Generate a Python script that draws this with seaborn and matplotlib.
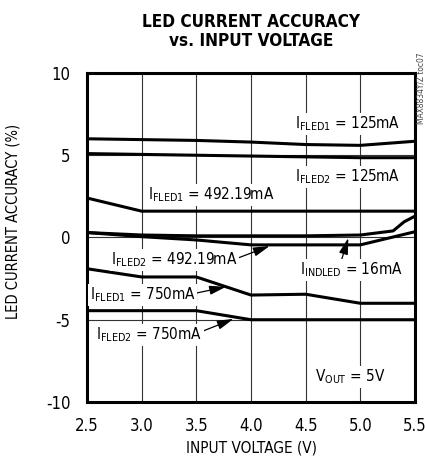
import pandas as pd
import seaborn as sns
import matplotlib.pyplot as plt

# Datos
vin = [2.5, 3.0, 3.5, 4.0, 4.5, 5.0, 5.5]
fled1_125 = [6.0, 5.95, 5.9, 5.8, 5.65, 5.6, 5.85]
fled2_125 = [5.1, 5.05, 5.0, 4.95, 4.9, 4.85, 4.85]
fled1_492 = [2.4, 1.6, 1.6, 1.6, 1.6, 1.6, 1.6]
fled2_492 = [0.3, 0.05, -0.15, -0.45, -0.45, -0.45, 0.35]
fled1_750 = [-1.9, -2.4, -2.4, -3.5, -3.45, -4.0, -4.0]
fled2_750 = [-4.45, -4.45, -4.45, -5.0, -5.0, -5.0, -5.0]
vin_indled = [2.5, 3.0, 3.5, 4.0, 4.5, 5.0, 5.3, 5.4, 5.5]
indled_16 = [0.3, 0.15, 0.1, 0.1, 0.1, 0.15, 0.4, 0.95, 1.3]

x_ticks = [2.5, 3.0, 3.5, 4.0, 4.5, 5.0, 5.5]
y_ticks = [-10, -5, 0, 5, 10]

series = {
    "fled1_125": (vin, fled1_125),
    "fled2_125": (vin, fled2_125),
    "fled1_492": (vin, fled1_492),
    "fled2_492": (vin, fled2_492),
    "fled1_750": (vin, fled1_750),
    "fled2_750": (vin, fled2_750),
    "indled_16": (vin_indled, indled_16),
}
rows = []
for name, (xs, ys) in series.items():
    for x, y in zip(xs, ys):
        rows.append({"serie": name, "vin": x, "acc": y})
df = pd.DataFrame(rows)

sns.set_style("white")
plt.rcParams["font.family"] = ["DejaVu Sans"]
plt.rcParams["font.stretch"] = "condensed"
plt.rcParams["mathtext.fontset"] = "custom"
plt.rcParams["axes.unicode_minus"] = False
plt.rcParams["text.color"] = "black"
plt.rcParams["axes.labelcolor"] = "black"
plt.rcParams["xtick.color"] = "black"
plt.rcParams["ytick.color"] = "black"

fig = plt.figure(figsize=(4.25, 4.57), dpi=100)
ax = fig.add_axes([0.2047, 0.1204, 0.7718, 0.7199])

ax.set_xticks(x_ticks)
ax.set_yticks(y_ticks)
ax.grid(True, color="#333333", linewidth=0.8)
ax.set_axisbelow(True)

sns.lineplot(data=df, x="vin", y="acc", units="serie", estimator=None,
             color="black", linewidth=2.2, ax=ax, legend=False, zorder=3)

ax.set_xlim(2.5, 5.5)
ax.set_ylim(-10, 10)
ax.set_xticklabels([f"{v:.1f}" for v in x_ticks])
ax.tick_params(length=0, labelsize=12, pad=11)
ax.tick_params(axis="y", pad=12)
for s in ax.spines.values():
    s.set_linewidth(2.2)
    s.set_color("black")

ax.set_xlabel("INPUT VOLTAGE (V)", fontsize=11, labelpad=4)
ax.set_ylabel("LED CURRENT ACCURACY (%)", fontsize=10.5)
ax.yaxis.set_label_coords(-0.204, 0.55)
fig.text(0.5905, 0.972, "LED CURRENT ACCURACY\nvs. INPUT VOLTAGE", ha="center",
         va="top", fontsize=12.3, fontweight="bold", linespacing=1.1)

box = dict(facecolor="white", edgecolor="none", pad=1)
arrow = dict(arrowstyle="-|>,head_length=0.9,head_width=0.25", color="black",
             lw=0.9, shrinkA=0, shrinkB=0)
fs = 11

ax.text(4.88, 6.9, "I$_{\\mathregular{FLED1}}$ = 125mA", fontsize=fs, ha="center",
        va="center", bbox=box, zorder=4)
ax.text(4.88, 3.68, "I$_{\\mathregular{FLED2}}$ = 125mA", fontsize=fs, ha="center",
        va="center", bbox=box, zorder=4)
ax.text(3.64, 2.58, "I$_{\\mathregular{FLED1}}$ = 492.19mA", fontsize=fs, ha="center",
        va="center", bbox=box, zorder=4)
ax.annotate("I$_{\\mathregular{FLED2}}$ = 492.19mA", xy=(4.17, -0.52), xytext=(3.30, -1.37),
            fontsize=fs, ha="center", va="center", bbox=box,
            arrowprops=dict(arrow, relpos=(1.0, 0.6)), zorder=4)
ax.annotate("I$_{\\mathregular{INDLED}}$ = 16mA", xy=(4.89, -0.03), xytext=(4.92, -1.98),
            fontsize=fs, ha="center", va="center", bbox=box,
            arrowprops=dict(arrow, relpos=(0.4, 1.0)), zorder=4)
ax.annotate("I$_{\\mathregular{FLED1}}$ = 750mA", xy=(3.77, -3.0), xytext=(3.01, -3.5),
            fontsize=fs, ha="center", va="center", bbox=box,
            arrowprops=dict(arrow, relpos=(1.0, 0.6)), zorder=4)
ax.annotate("I$_{\\mathregular{FLED2}}$ = 750mA", xy=(3.84, -4.95), xytext=(3.07, -5.93),
            fontsize=fs, ha="center", va="center", bbox=box,
            arrowprops=dict(arrow, relpos=(1.0, 0.7)), zorder=4)
ax.text(4.91, -8.48, "V$_{\\mathregular{OUT}}$ = 5V", fontsize=fs, ha="center",
        va="center", bbox=box, zorder=4)

fig.text(0.991, 0.807, "MAX8834Y/Z toc07", rotation=90, fontsize=6, color="#444444",
         ha="center", va="center")

plt.savefig("out.png", dpi=100)
